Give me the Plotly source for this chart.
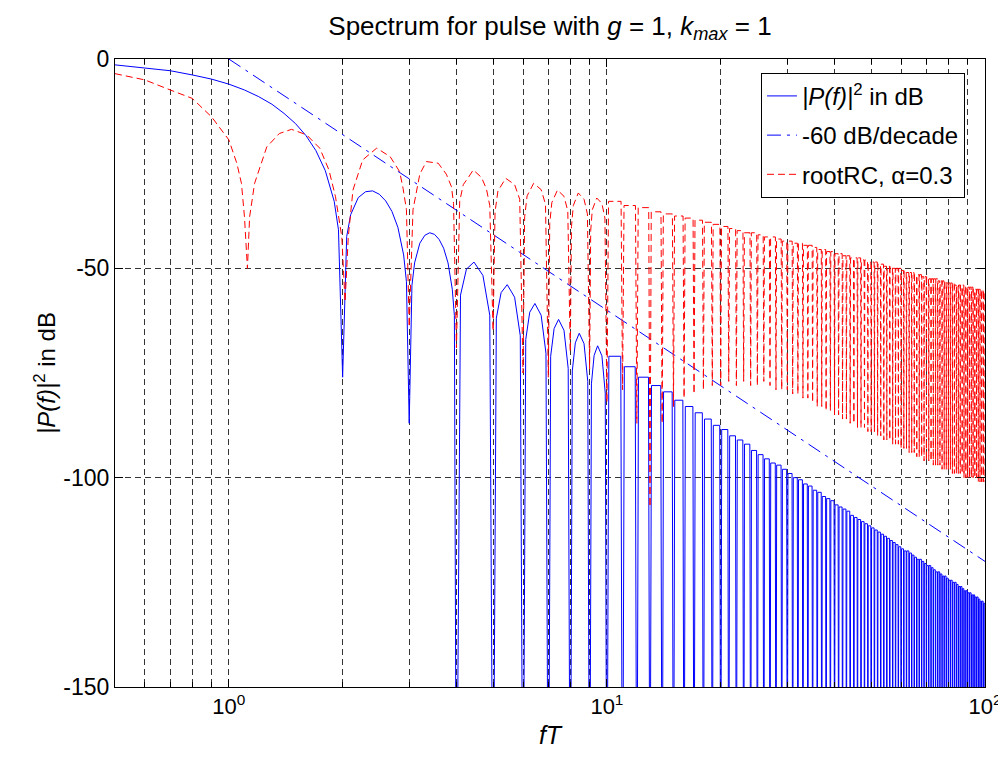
import plotly.graph_objects as go

# ---------------- data ----------------
# |P(f)|^2 in dB : main lobe and first sidelobes (f, dB)
blue_f_low = [0.5, 0.6, 0.7, 0.8, 0.9, 1.0, 1.1, 1.2, 1.3, 1.4, 1.5, 1.6, 1.7, 1.8, 1.9, 1.95, 2.0,
              2.05, 2.1, 2.2, 2.3, 2.4, 2.5, 2.6, 2.7, 2.8, 2.9, 2.95, 3.0,
              3.05, 3.1, 3.2, 3.3, 3.4, 3.5, 3.6, 3.7, 3.8, 3.9, 3.95, 4.0,
              4.1, 4.25, 4.45, 4.7, 4.9, 5.0,
              5.1, 5.25, 5.45, 5.7, 5.9, 6.0,
              6.1, 6.25, 6.45, 6.7, 6.9, 7.0,
              7.1, 7.25, 7.45, 7.7, 7.9, 8.0,
              8.1, 8.25, 8.45, 8.7, 8.9, 9.0,
              9.1, 9.25, 9.45, 9.7, 9.9, 10.0]
blue_db_low = [-1.4, -2.1, -2.8, -3.8, -4.8, -6.0, -7.4, -9.0, -10.8, -13.0, -15.4, -18.3, -21.9, -26.7, -34.0, -40.8, -76,
               -42.4, -37.2, -33.1, -31.7, -31.5, -32.3, -33.9, -36.4, -40.2, -46.8, -53.2, -87,
               -54.1, -48.7, -44.0, -42.1, -41.5, -41.9, -43.1, -45.2, -48.7, -55.0, -61.3, -200,
               -56.4, -50.2, -48.5, -51.7, -61.2, -200,
               -61.9, -55.8, -53.9, -56.9, -66.1, -200,
               -67.0, -60.5, -58.4, -61.2, -70.3, -200,
               -71.0, -64.4, -62.2, -64.8, -73.9, -200,
               -74.5, -67.8, -65.5, -68.0, -77.0, -200,
               -77.6, -70.8, -68.5, -70.9, -79.8, -200]

# sidelobes between n and n+1 for n = 10..99 (top of each lobe, dB)
lobe_n = list(range(10, 100))
blue_peak_db = [-71, -73.5, -76, -78, -79.5, -81.5, -83, -84.5, -86, -87.5,
                -88.5, -90, -91, -92, -93.5, -94.5, -95.5, -96.5, -97, -98,
                -99, -100, -100.5, -101.5, -102, -103, -103.5, -104.5, -105, -105.5,
                -106.5, -107, -107.5, -108, -109, -109.5, -110, -110.5, -111, -111.5,
                -112, -112.5, -113, -113.5, -114, -114.5, -115, -115.5, -116, -116.5,
                -117, -117.5, -117.5, -118, -118.5, -119, -119.5, -119.5, -120, -120.5,
                -121, -121, -121.5, -122, -122.5, -122.5, -123, -123.5, -123.5, -124,
                -124.5, -124.5, -125, -125, -125.5, -126, -126, -126.5, -127, -127,
                -127.5, -127.5, -128, -128, -128.5, -128.5, -129, -129.5, -129.5, -130]
# nulls at f = 11..100 (below the axis floor)
blue_null_db = [-200] * 90

# -60 dB/decade reference line
ref_f = [1, 100]
ref_db = [0, -120]

# rootRC, alpha = 0.3 : low-frequency part (f, dB)
red_f_low = [0.5, 0.6, 0.7, 0.8, 0.9, 1.0, 1.05, 1.08, 1.10, 1.12, 1.135, 1.17, 1.26, 1.36, 1.465, 1.605,
             1.74, 1.84, 1.915, 1.99, 2.03, 2.07, 2.13, 2.26, 2.46, 2.67, 2.83, 2.89, 2.95, 3.0,
             3.07, 3.14, 3.2, 3.33, 3.58, 3.76, 3.88, 3.93, 4.0,
             4.08, 4.17, 4.3, 4.43, 4.66, 4.8, 4.9, 5.0,
             5.06, 5.15, 5.4, 5.7, 5.88, 6.0,
             6.06, 6.15, 6.4, 6.7, 6.88, 7.0,
             7.06, 7.15, 7.4, 7.7, 7.88, 8.0,
             8.06, 8.15, 8.4, 8.7, 8.88, 9.0,
             9.06, 9.15, 9.4, 9.7, 9.88, 10.0]
red_db_low = [-3.5, -5.0, -7.4, -9.4, -13.8, -19.3, -24.9, -29.7, -37.7, -50, -37.7, -29.7, -21.0, -17.8, -16.8, -18.1,
              -21.3, -26.5, -32.9, -42.5, -58, -42.5, -31.3, -24.1, -21.3, -23.3, -26.9, -30.9, -36.0, -64,
              -36.0, -31.0, -27.5, -24.5, -24.9, -27.5, -30.5, -34.5, -69,
              -34.0, -30.0, -28.3, -26.5, -28.3, -31.0, -35.0, -65,
              -36.5, -31.5, -28.5, -30.0, -33.5, -75,
              -37.7, -32.7, -29.7, -31.2, -34.7, -76,
              -39.3, -34.3, -31.3, -32.8, -36.3, -70,
              -40.0, -35.0, -32.0, -33.5, -37.0, -74,
              -41.0, -36.0, -33.2, -34.5, -38.0, -82]

# lobes between n and n+1 for n = 10..99
red_peak_db = [-34, -35, -35.5, -36.5, -37, -37.5, -38, -38.5, -39, -39.5,
               -40, -40.5, -41, -41.5, -41.5, -42, -42.5, -42.5, -43, -43.5,
               -43.5, -44, -44, -44.5, -44.5, -45, -45.5, -45.5, -46, -46,
               -46.5, -46.5, -47, -47, -47.5, -47.5, -47.5, -48, -48, -48.5,
               -48.5, -48.5, -49, -49, -49.5, -49.5, -49.5, -50, -50, -50,
               -50.5, -50.5, -51, -51, -51, -51.5, -51.5, -51.5, -52, -52,
               -52, -52.5, -52.5, -52.5, -52.5, -53, -53, -53, -53, -53.5,
               -53.5, -53.5, -53.5, -54, -54, -54, -54, -54, -54.5, -54.5,
               -54.5, -54.5, -54.5, -55, -55, -55, -55, -55, -55, -55.5]
# nulls at f = 11..100
red_null_db = [-79, -87, -107, -87, -83, -81, -80, -79, -78, -78,
               -77, -78, -77, -78, -78, -77, -78, -79, -79, -79,
               -80, -80, -81, -81, -82, -83, -83, -84, -84, -85,
               -85, -86, -86, -87, -87, -88, -88, -88, -89, -89,
               -89, -90, -90, -91, -91, -91, -92, -92, -92, -93,
               -93, -93, -94, -94, -94, -95, -95, -95, -96, -96,
               -96, -96, -97, -97, -97, -97, -98, -98, -98, -98,
               -98, -99, -99, -99, -99, -99, -99, -100, -100, -100,
               -100, -100, -100, -100, -100, -101, -101, -101, -101, -101]

x_major = [1, 10, 100]
x_major_text = ["10<sup>0</sup>", "10<sup>1</sup>", "10<sup>2</sup>"]
x_minor = [0.6, 0.7, 0.8, 0.9, 2, 3, 4, 5, 6, 7, 8, 9, 20, 30, 40, 50, 60, 70, 80, 90]
y_ticks = [0, -50, -100, -150]
y_tick_text = ["0", "-50", "-100", "-150"]

# ---------------- build the polylines ----------------
bx, by = list(blue_f_low), list(blue_db_low)
for n, p, nd in zip(lobe_n, blue_peak_db, blue_null_db):
    bx += [n + 0.12, n + 0.88, n + 1]
    by += [p, p, nd]

rx, ry = list(red_f_low), list(red_db_low)
for n, p, nd in zip(lobe_n, red_peak_db, red_null_db):
    rx += [n + 0.1, n + 0.9, n + 1]
    ry += [p, p, nd]

FONT = "Liberation Sans, Arial, Helvetica, sans-serif"
BLUE = "#0000ff"
RED = "#ff0000"
GRID = "rgba(30,30,30,0.9)"

fig = go.Figure()
fig.add_trace(go.Scatter(x=bx, y=by, mode="lines", name="<i>|P(f)|</i><sup>2</sup> in dB",
                         legendgroup="a", line=dict(color=BLUE, width=1)))
fig.add_trace(go.Scatter(x=ref_f, y=ref_db, mode="lines", name="-60 dB/decade",
                         legendgroup="b", line=dict(color=BLUE, width=1, dash="14px,6px,3px,6px")))
fig.add_trace(go.Scatter(x=rx, y=ry, mode="lines", name="rootRC, α=0.3",
                         legendgroup="c", line=dict(color=RED, width=1, dash="7px,4px")))

# the page body adds an 8px offset; figure is sized so the plot area lands at
# x 115..985, y 59..687 of the window
fig.update_layout(
    width=998, height=746,
    margin=dict(l=107, r=21, t=51, b=67, autoexpand=False),
    paper_bgcolor="white", plot_bgcolor="white",
    font=dict(family=FONT, size=22, color="black"),
    title=dict(text="Spectrum for pulse with <i>g</i> = 1, <i>k</i><sub><i>max</i></sub> = 1",
               x=0.5, xref="paper", xanchor="center", y=0.976, yanchor="middle",
               font=dict(family=FONT, size=26, color="black")),
    showlegend=True,
    legend=dict(x=0.977, y=0.978, xanchor="right", yanchor="top",
                bgcolor="white", bordercolor="black", borderwidth=1,
                font=dict(family=FONT, size=24, color="black"),
                traceorder="grouped", tracegroupgap=5),
)

fig.update_xaxes(
    type="log", range=[-0.30103, 2], automargin=False,
    tickmode="array", tickvals=x_major, ticktext=x_major_text,
    tickfont=dict(family=FONT, size=22), ticklabeloverflow="allow",
    ticks="inside", ticklen=8, tickcolor="black",
    showline=True, linecolor="black", linewidth=1, mirror="ticks",
    showgrid=True, gridcolor=GRID, griddash="6px,4px", gridwidth=1,
    minor=dict(tickmode="array", tickvals=x_minor, ticks="inside", ticklen=5, tickcolor="black",
               showgrid=True, gridcolor=GRID, griddash="6px,4px", gridwidth=1),
    zeroline=False,
    title=dict(text="<i>fT</i>", font=dict(family=FONT, size=25), standoff=8),
)
fig.update_yaxes(
    range=[-150, 0], automargin=False,
    tickmode="array", tickvals=y_ticks, ticktext=y_tick_text,
    tickfont=dict(family=FONT, size=23),
    ticks="inside", ticklen=8, tickcolor="black", ticklabelstandoff=0,
    showline=True, linecolor="black", linewidth=1, mirror="ticks",
    showgrid=True, gridcolor=GRID, griddash="6px,4px", gridwidth=1,
    zeroline=False,
    title=dict(text="<i>|P(f)|</i><sup>2</sup> in dB", font=dict(family=FONT, size=24), standoff=0),
)

fig.write_html("out.html")
